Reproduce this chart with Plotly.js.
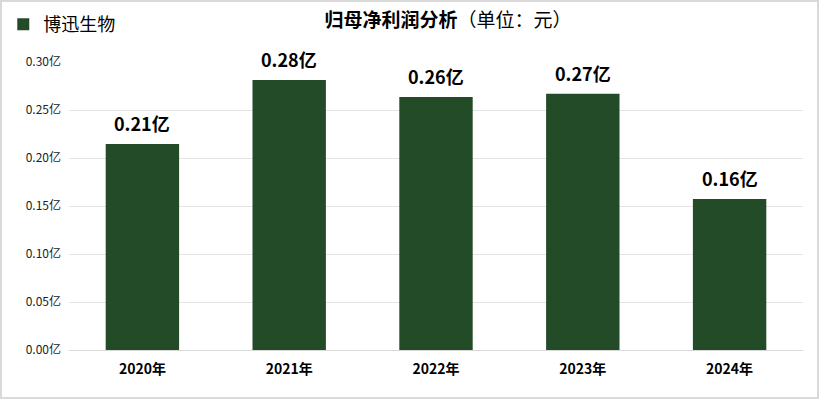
<!DOCTYPE html>
<html>
<head>
<meta charset="utf-8">
<script src="https://cdn.plot.ly/plotly-3.0.1.min.js"></script>
<style>
  html, body { margin: 0; padding: 0; background: #ffffff; }
  #wrap { position: relative; width: 819px; height: 399px; }
  #chart { width: 819px; height: 399px; }
  #frame { position: absolute; left: 0; top: 0; width: 819px; height: 399px; box-sizing: border-box;
           border: 2px solid #d9d9d9; pointer-events: none; }
</style>
</head>
<body>
<div id="wrap"><div id="chart"></div><div id="frame"></div></div>
<script>
const seriesName = '博迅生物';
const categories = ['2020年', '2021年', '2022年', '2023年', '2024年'];
const values = [0.2146, 0.2812, 0.2635, 0.2670, 0.1573];
const valueLabels = ['0.21亿', '0.28亿', '0.26亿', '0.27亿', '0.16亿'];
const yTicks = [0, 0.05, 0.10, 0.15, 0.20, 0.25, 0.30];
const yTickText = yTicks.map(v => v.toFixed(2) + '亿');

const cjk = '"Microsoft YaHei", "Noto Sans CJK SC", sans-serif';
const barColor = '#244b28';

const trace = {
  type: 'bar',
  name: seriesName,
  x: categories,
  y: values,
  marker: { color: barColor },
  hoverinfo: 'skip',
  showlegend: true
};

const annotations = categories.map((c, i) => ({
  x: c, y: values[i], xref: 'x', yref: 'y',
  text: '<b>' + valueLabels[i] + '</b>',
  showarrow: false, yanchor: 'bottom', yshift: 6,
  font: { family: cjk, size: 18, color: '#000000' }
}));

const layout = {
  width: 819, height: 399,
  margin: { l: 69, r: 16, t: 62, b: 49, autoexpand: false },
  paper_bgcolor: '#ffffff', plot_bgcolor: '#ffffff',
  bargap: 0.5,
  title: {
    text: '<b>归母净利润分析</b>（单位：元）',
    font: { family: cjk, size: 19, color: '#000000' },
    x: 0.547, xref: 'container', xanchor: 'center',
    y: 0.95, yref: 'container', yanchor: 'middle'
  },
  showlegend: true,
  legend: {
    x: 0.004, xref: 'container', xanchor: 'left',
    y: 0.985, yref: 'container', yanchor: 'top',
    font: { family: cjk, size: 18, color: '#000000' },
    bgcolor: 'rgba(0,0,0,0)', itemwidth: 30
  },
  xaxis: {
    type: 'category', automargin: false,
    showgrid: false, zeroline: false,
    showline: true, linecolor: '#d9d9d9', linewidth: 1,
    ticks: '', ticklabelstandoff: 6,
    tickfont: { family: cjk, size: 14, color: '#000000', weight: 'bold' }
  },
  yaxis: {
    range: [0, 0.30], automargin: false,
    tickmode: 'array', tickvals: yTicks, ticktext: yTickText,
    showgrid: true, gridcolor: '#e3e3e3', gridwidth: 1,
    zeroline: false, showline: false, ticks: '',
    ticklabelstandoff: 7,
    tickfont: { family: cjk, size: 12, color: '#222222' }
  },
  annotations: annotations
};

Plotly.newPlot('chart', [trace], layout, { displayModeBar: false, staticPlot: true });
</script>
</body>
</html>
